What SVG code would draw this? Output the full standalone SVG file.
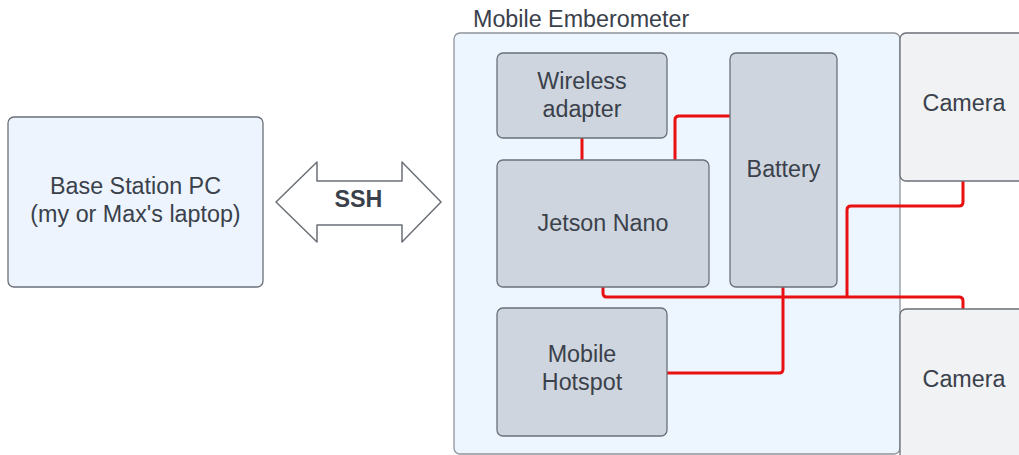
<svg xmlns="http://www.w3.org/2000/svg" width="1019" height="455" viewBox="0 0 1019 455">
<style>
text{font-family:"Liberation Sans",Arial,sans-serif;font-size:23.3px;fill:#3a414b;text-anchor:middle}
.cont{fill:#edf5ff;stroke:#8f949b;stroke-width:1.3}
.inner{fill:#cfd5de;stroke:#6b7078;stroke-width:1.3}
.cam{fill:#f1f2f4;stroke:#6b7078;stroke-width:1.3}
.base{fill:#edf4fd;stroke:#6b7078;stroke-width:1.3}
.wire{fill:none;stroke:#e81010;stroke-width:3;stroke-linejoin:round}
</style>
<rect width="1019" height="455" fill="#ffffff"/>
<g id="base-station">
<rect class="base" x="8" y="117" width="255" height="170" rx="6"/>
<text x="135.5" y="194">Base Station PC</text>
<text x="135.5" y="222">(my or Max's laptop)</text>
</g>
<g id="ssh-arrow">
<path d="M276,202 L317,162 L317,181 L402,181 L402,162 L441,202 L402,242 L402,225 L317,225 L317,242 Z" fill="#ffffff" stroke="#6b7078" stroke-width="1.5" stroke-linejoin="round"/>
<text x="358.5" y="207" font-weight="bold">SSH</text>
</g>
<g id="mobile-emberometer">
<rect class="cont" x="454" y="33" width="446" height="421" rx="6"/>
<text x="473" y="27" style="text-anchor:start">Mobile Emberometer</text>
</g>
<g id="connectors">
<path class="wire" d="M582,138 L582,160"/>
<path class="wire" d="M675,160 L675,120 Q675,116 679,116 L730,116"/>
<path class="wire" d="M603,287 L603,293 Q603,297 607,297 L959,297 Q963,297 963,301 L963,309"/>
<path class="wire" d="M963,181 L963,202 Q963,206 959,206 L851,206 Q847,206 847,210 L847,297"/>
<path class="wire" d="M783,287 L783,369 Q783,373 779,373 L667,373"/>
</g>
<g id="wireless-adapter">
<rect class="inner" x="497" y="53" width="170" height="85" rx="6"/>
<text x="582" y="89">Wireless</text>
<text x="582" y="117">adapter</text>
</g>
<g id="jetson-nano">
<rect class="inner" x="497" y="160" width="212" height="127" rx="6"/>
<text x="603" y="231">Jetson Nano</text>
</g>
<g id="battery">
<rect class="inner" x="730" y="53" width="107" height="234" rx="6"/>
<text x="783.5" y="177">Battery</text>
</g>
<g id="mobile-hotspot">
<rect class="inner" x="497" y="308" width="170" height="128" rx="6"/>
<text x="582" y="362">Mobile</text>
<text x="582" y="390">Hotspot</text>
</g>
<g id="camera-top">
<rect class="cam" x="900" y="33" width="130" height="148" rx="6"/>
<text x="964" y="111">Camera</text>
</g>
<g id="camera-bottom">
<rect class="cam" x="900" y="309" width="130" height="160" rx="6"/>
<text x="964" y="387">Camera</text>
</g>
</svg>
